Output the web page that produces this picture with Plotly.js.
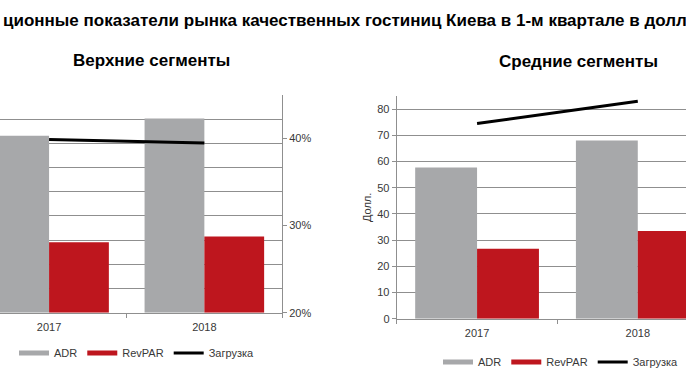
<!DOCTYPE html>
<html>
<head>
<meta charset="utf-8">
<script src="https://cdn.plot.ly/plotly-3.0.1.min.js"></script>
<style>html,body{margin:0;padding:0;background:#fff;overflow:hidden;}#chart{width:686px;height:386px;}</style>
</head>
<body>
<div id="chart"></div>
<script>
// ---- data ----
const categories = ['2017', '2018'];
const upperADR = [146.4, 160.5];
const upperRevPAR = [58.2, 63.1];
const upperOcc = [39.9, 39.5];
const midADR = [57.7, 68.0];
const midRevPAR = [26.7, 33.5];
const midOcc = [46.3, 49.3];
const seriesNames = ['ADR', 'RevPAR', 'Загрузка'];
const occTickVals = [20, 30, 40];
const occTickText = ['20%', '30%', '40%'];
const chartTitle = 'ционные показатели рынка качественных гостиниц Киева в 1-м квартале в долл';
const panelTitles = ['Верхние сегменты', 'Средние сегменты'];
const yTitle = 'Долл.';

// ---- styles ----
const W = 686, H = 386;
const FONT = 'Liberation Sans, Arial, sans-serif';
const GREY = '#a7a8aa', RED = '#be161e', GRID = '#8f8f8f', TXT = '#383838';
const px = v => v / W;
const py = v => 1 - v / H;

function panel(adr, revpar, occ, xa, ya, yocc, lg) {
  return [
    {type:'bar', name:seriesNames[0], x:categories, y:adr, xaxis:xa, yaxis:ya, marker:{color:GREY}, showlegend:false, offsetgroup:'a'},
    {type:'bar', name:seriesNames[1], x:categories, y:revpar, xaxis:xa, yaxis:ya, marker:{color:RED}, showlegend:false, offsetgroup:'b'},
    // legend entries drawn as thick line swatches (no marks of their own)
    {type:'scatter', mode:'lines', name:seriesNames[0], x:[null], y:[null], xaxis:xa, yaxis:ya, line:{color:GREY, width:5}, legend:lg},
    {type:'scatter', mode:'lines', name:seriesNames[1], x:[null], y:[null], xaxis:xa, yaxis:ya, line:{color:RED, width:5}, legend:lg},
    {type:'scatter', mode:'lines', name:seriesNames[2], x:categories, y:occ, xaxis:xa, yaxis:yocc, line:{color:'#000', width:3}, legend:lg}
  ];
}

const traces = panel(upperADR, upperRevPAR, upperOcc, 'x', 'y', 'y2', 'legend')
  .concat(panel(midADR, midRevPAR, midOcc, 'x2', 'y3', 'y4', 'legend2'));

const xCommon = {type:'category', showline:true, linecolor:GRID, linewidth:1, ticks:'outside', tickson:'boundaries',
  ticklen:4, tickcolor:GRID, showgrid:false, zeroline:false, fixedrange:true, tickfont:{family:FONT, size:11, color:TXT}};
const legCommon = {orientation:'h', xanchor:'left', yanchor:'middle', bgcolor:'rgba(0,0,0,0)',
  font:{family:FONT, size:11, color:TXT}, traceorder:'normal', itemwidth:30, borderwidth:0};

const layout = {
  width:W, height:H, margin:{l:0, r:0, t:0, b:0, autoexpand:false},
  paper_bgcolor:'#fff', plot_bgcolor:'#fff',
  barmode:'group', bargap:0.23, bargroupgap:0,
  font:{family:FONT, color:TXT},
  xaxis:Object.assign({}, xCommon, {domain:[0, px(282)], anchor:'y', range:[-0.316, 1.5], ticklabelstandoff:4}),
  xaxis2:Object.assign({}, xCommon, {domain:[px(396.7), 1], anchor:'y3', range:[-0.5, 1.3], ticklabelstandoff:4}),
  yaxis:{domain:[py(312.7), py(95)], anchor:'x', range:[0, 180], dtick:20, showgrid:true, gridcolor:GRID,
    showticklabels:false, ticks:'', zeroline:false, showline:false},
  yaxis2:{overlaying:'y', anchor:'x', side:'right', range:[20, 45], tickmode:'array', tickvals:occTickVals, ticktext:occTickText,
    showline:true, linecolor:GRID, ticks:'outside', ticklen:4, tickcolor:GRID, showgrid:false, zeroline:false,
    tickfont:{family:FONT, size:11, color:TXT}},
  yaxis3:{domain:[py(318.7), py(96)], anchor:'x2', range:[0, 85], tick0:0, dtick:10, showgrid:true, gridcolor:GRID,
    showline:true, linecolor:GRID, ticks:'outside', ticklen:4, tickcolor:GRID, zeroline:false,
    tickfont:{family:FONT, size:11, color:TXT},
    title:{text:yTitle, font:{family:FONT, size:11, color:TXT}, standoff:3}},
  yaxis4:{overlaying:'y3', anchor:'x2', side:'right', range:[20, 50], visible:false},
  showlegend:true,
  legend:Object.assign({}, legCommon, {x:px(14), y:py(353)}),
  legend2:Object.assign({}, legCommon, {x:px(438), y:py(362)}),
  annotations:[
    {text:'<b>' + chartTitle + '</b>', xref:'paper', yref:'paper', x:px(1), y:py(21), xanchor:'left', yanchor:'middle',
      showarrow:false, font:{family:FONT, size:17, color:'#000'}},
    {text:'<b>' + panelTitles[0] + '</b>', xref:'paper', yref:'paper', x:px(151), y:py(60), xanchor:'center', yanchor:'middle',
      showarrow:false, font:{family:FONT, size:17, color:'#000'}},
    {text:'<b>' + panelTitles[1] + '</b>', xref:'paper', yref:'paper', x:px(578), y:py(61), xanchor:'center', yanchor:'middle',
      showarrow:false, font:{family:FONT, size:17, color:'#000'}}
  ]
};

Plotly.newPlot('chart', traces, layout, {displayModeBar:false, staticPlot:true});
</script>
</body>
</html>
